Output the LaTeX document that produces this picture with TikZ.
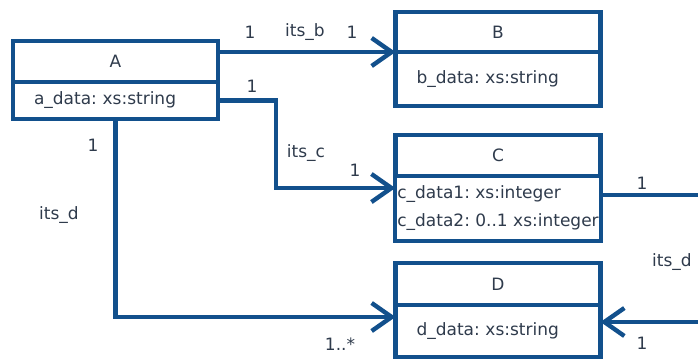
\documentclass[tikz,border=0pt]{standalone}
\usepackage{fontspec}
\setmainfont{DejaVu Sans}
\usetikzlibrary{positioning, arrows.meta}
\definecolor{umlblue}{HTML}{12508C}
\definecolor{umltext}{HTML}{2F3B4C}
\tikzset{
  cls head/.style={rectangle,draw=umlblue,line width=4.4pt,minimum width=205pt,minimum height=41pt,inner sep=0pt,outer sep=0pt,text=umltext},
  cls body/.style={cls head,align=left,inner xsep=21pt,text width=163pt},
  cls body wide/.style={cls head,align=left,inner xsep=2pt},
  assoc/.style={-{Straight Barb[length=20pt,width=28pt]},umlblue,line width=4.4pt},
  mult/.style={text=umltext,inner sep=1pt}
}

\begin{document}
\frenchspacing
\begin{tikzpicture}[x=1pt, y=1pt, every node/.style={font=\fontsize{17}{20}\selectfont}]
  \useasboundingbox (0,0) rectangle (698,360);
  \clip (0,0) rectangle (698,360);

  % classes
  \node[cls head] (A) at (115.5,298.5) {A};
  \node[cls body, minimum height=37pt, below=0pt of A] (Ab) {a\_data: xs:string};

  \node[cls head, minimum height=40pt] (B) at (498,328) {B};
  \node[cls body, minimum height=54pt, below=0pt of B] (Bb) {b\_data: xs:string};

  \node[cls head] (C) at (498,204.5) {C};
  \node[cls body wide, minimum height=65pt, below=0pt of C] (Cb) {c\_data1: xs:integer\\[8pt]c\_data2: 0..1 xs:integer};

  \node[cls head, minimum height=42pt] (D) at (498,76) {D};
  \node[cls body, minimum height=52pt, below=0pt of D] (Db) {d\_data: xs:string};

  % associations
  \draw[assoc] (A.east |- Bb.north west) -- (Bb.north west);
  \draw[assoc] (Ab.east) -- ++(58,0) |- ([yshift=-12pt]Cb.north west);
  \draw[assoc] (Ab.south) |- ([yshift=-12pt]Db.north west);
  \draw[assoc] ([yshift=-19pt]Cb.north east) -- ++(130,0) |- ([yshift=-17pt]Db.north east);

  % role names and multiplicities
  \node[mult] (mab1) at (250,328) {1};
  \node[mult] (rab) at (305,328) {its\_b};
  \node[mult] (mab2) at (352,328) {1};
  \node[mult] (mac1) at (252,274) {1};
  \node[mult] (rac) at (306,207) {its\_c};
  \node[mult] (mac2) at (355,190) {1};
  \node[mult] (mad1) at (93,215) {1};
  \node[mult] (rad) at (59,145) {its\_d};
  \node[mult] (mad2) at (340,16) {1..*};
  \node[mult] (mcd1) at (642,177) {1};
  \node[mult] (rcd) at (672,98) {its\_d};
  \node[mult] (mcd2) at (642,17) {1};
\end{tikzpicture}
\end{document}
